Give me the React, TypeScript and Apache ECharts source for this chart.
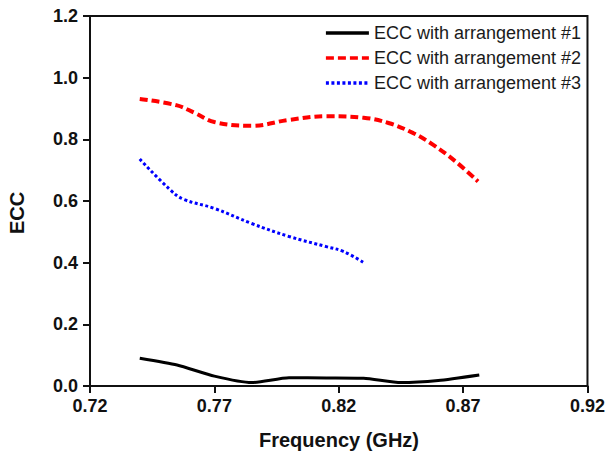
import React, { useEffect, useRef } from "react";
import * as echarts from "echarts";

const X_MIN = 0.72;
const xTicks = [0.72, 0.77, 0.82, 0.87, 0.92];
const yTicks = [0, 0.2, 0.4, 0.6, 0.8, 1.0, 1.2];

const seriesNames = [
  "ECC with arrangement #1",
  "ECC with arrangement #2",
  "ECC with arrangement #3",
];

const freq1 = [0.74, 0.755, 0.77, 0.785, 0.8, 0.815, 0.83, 0.845, 0.86, 0.8765];
const ecc1 = [0.09, 0.068, 0.032, 0.011, 0.027, 0.026, 0.025, 0.011, 0.018, 0.036];

const freq2 = [0.74, 0.755, 0.762, 0.77, 0.785, 0.8, 0.815, 0.83, 0.84, 0.85, 0.858, 0.867, 0.876];
const ecc2 = [0.931, 0.91, 0.886, 0.856, 0.844, 0.863, 0.875, 0.87, 0.853, 0.82, 0.782, 0.728, 0.663];

const freq3 = [0.74, 0.752, 0.7575, 0.77, 0.785, 0.8, 0.815, 0.822, 0.8305];
const ecc3 = [0.736, 0.638, 0.606, 0.576, 0.527, 0.485, 0.452, 0.436, 0.398];

const toData = (xs: number[], ys: number[]) => xs.map((x, i) => [x - X_MIN, ys[i]]);

const FONT = "'Liberation Sans', Arial, sans-serif";

export default function App() {
  const ref = useRef<HTMLDivElement>(null);
  useEffect(() => {
    document.body.style.margin = "0";
    const chart = echarts.init(ref.current!, null, { renderer: "svg" });
    chart.setOption({
      animation: false,
      backgroundColor: "#fff",
      grid: {
        left: 90,
        right: 19,
        top: 16,
        bottom: 68,
        show: true,
        borderColor: "#111",
        borderWidth: 2,
        backgroundColor: "transparent",
      },
      legend: {
        orient: "vertical",
        right: 22,
        top: 19,
        itemWidth: 43,
        itemHeight: 14,
        itemGap: 7,
        itemStyle: { opacity: 0 },
        lineStyle: { width: 3.5 },
        textStyle: { fontFamily: FONT, fontSize: 18, color: "#1a1a1a" },
        data: seriesNames,
      },
      xAxis: {
        type: "value",
        min: 0,
        max: xTicks[xTicks.length - 1] - X_MIN,
        interval: 0.05,
        axisLine: { show: true, lineStyle: { color: "#111", width: 2 } },
        axisTick: { show: true, length: 7, lineStyle: { color: "#111", width: 2 } },
        splitLine: { show: false },
        axisLabel: {
          margin: 11,
          fontFamily: FONT,
          fontSize: 18,
          fontWeight: "bold",
          color: "#111",
          formatter: (v: number) => (v + X_MIN).toFixed(2),
        },
      },
      yAxis: {
        type: "value",
        min: yTicks[0],
        max: yTicks[yTicks.length - 1],
        interval: 0.2,
        axisLine: { show: true, lineStyle: { color: "#111", width: 2 } },
        axisTick: { show: true, length: 7, lineStyle: { color: "#111", width: 2 } },
        splitLine: { show: false },
        axisLabel: {
          margin: 12,
          fontFamily: FONT,
          fontSize: 18,
          fontWeight: "bold",
          color: "#111",
          formatter: (v: number) => v.toFixed(1),
        },
      },
      graphic: [
        {
          type: "text",
          x: 339,
          y: 440,
          style: {
            text: "Frequency (GHz)",
            fontFamily: FONT,
            fontSize: 20,
            fontWeight: "bold",
            fill: "#111",
            align: "center",
            verticalAlign: "middle",
          },
        },
        {
          type: "text",
          x: 17,
          y: 213,
          rotation: Math.PI / 2,
          style: {
            text: "ECC",
            fontFamily: FONT,
            fontSize: 20,
            fontWeight: "bold",
            fill: "#111",
            align: "center",
            verticalAlign: "middle",
          },
        },
      ],
      series: [
        {
          name: seriesNames[0],
          type: "line",
          data: toData(freq1, ecc1),
          smooth: 0.2,
          symbol: "none",
          lineStyle: { color: "#000", width: 3, type: "solid" },
          itemStyle: { color: "#000" },
        },
        {
          name: seriesNames[1],
          type: "line",
          data: toData(freq2, ecc2),
          smooth: 0.4,
          symbol: "none",
          lineStyle: { color: "#ff0000", width: 4, type: [8, 4] },
          itemStyle: { color: "#ff0000" },
        },
        {
          name: seriesNames[2],
          type: "line",
          data: toData(freq3, ecc3),
          smooth: 0.4,
          symbol: "none",
          lineStyle: { color: "#0000ff", width: 3, type: [3, 2.5] },
          itemStyle: { color: "#0000ff" },
        },
      ],
    });
    return () => chart.dispose();
  }, []);
  return <div ref={ref} style={{ width: 608, height: 454 }} />;
}
